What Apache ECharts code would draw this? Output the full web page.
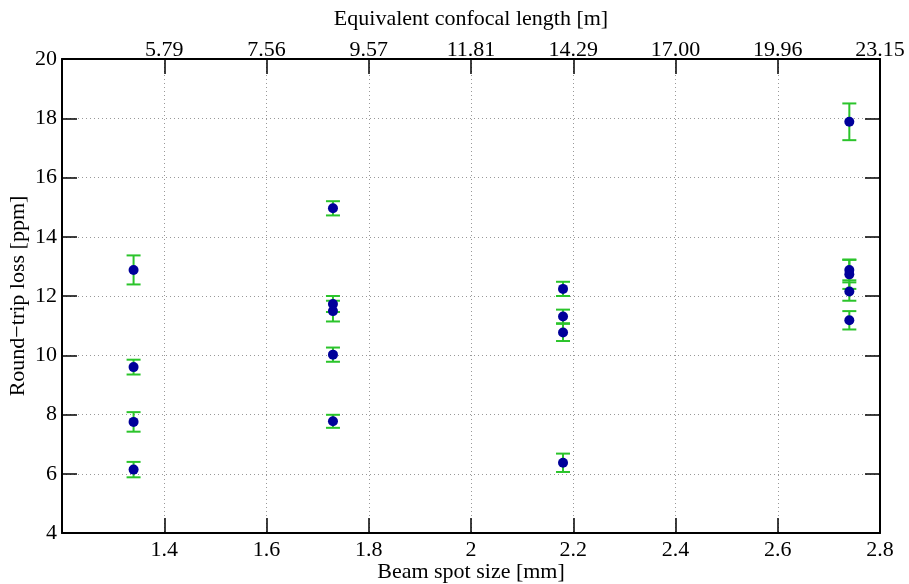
<!DOCTYPE html>
<html>
<head>
<meta charset="utf-8">
<script src="https://cdn.jsdelivr.net/npm/echarts@6/dist/echarts.min.js"></script>
<style>
html,body{margin:0;padding:0;background:#fff;}
#chart{width:909px;height:584px;}
</style>
</head>
<body>
<div id="chart"></div>
<script>
// Beam spot size [mm] for each measurement
const spotSize = [1.34, 1.34, 1.34, 1.34,
                  1.73, 1.73, 1.73, 1.73, 1.73,
                  2.18, 2.18, 2.18, 2.18,
                  2.74, 2.74, 2.74, 2.74, 2.74];
// Round-trip loss [ppm]
const loss = [12.88, 9.60, 7.75, 6.14,
              14.96, 11.73, 11.49, 10.02, 7.77,
              12.24, 11.31, 10.77, 6.37,
              17.88, 12.88, 12.73, 12.15, 11.18];
// Error (half-height of error bar) [ppm]
const lossErr = [0.49, 0.25, 0.33, 0.26,
                 0.24, 0.27, 0.35, 0.24, 0.22,
                 0.24, 0.23, 0.29, 0.31,
                 0.62, 0.35, 0.49, 0.31, 0.31];
// Top axis tick labels (equivalent confocal length [m]) at bottom ticks 1.4 ... 2.8
const bottomTicks = [1.4, 1.6, 1.8, 2.0, 2.2, 2.4, 2.6, 2.8];
const topTickLabels = ['5.79', '7.56', '9.57', '11.81', '14.29', '17.00', '19.96', '23.15'];

const errColor = '#2bc42b';
const dotColor = '#00009a';
const font = 'Liberation Serif';
const fs = 22;

const pts = spotSize.map((x, i) => [x, loss[i], lossErr[i]]);

function renderErr(params, api) {
  const x = api.value(0), y = api.value(1), e = api.value(2);
  const top = api.coord([x, y + e]);
  const bot = api.coord([x, y - e]);
  const hw = 7;
  const style = { stroke: errColor, lineWidth: 2 };
  return {
    type: 'group',
    children: [
      { type: 'line', shape: { x1: top[0], y1: top[1], x2: bot[0], y2: bot[1] }, style: style },
      { type: 'line', shape: { x1: top[0] - hw, y1: top[1], x2: top[0] + hw, y2: top[1] }, style: style },
      { type: 'line', shape: { x1: bot[0] - hw, y1: bot[1], x2: bot[0] + hw, y2: bot[1] }, style: style }
    ]
  };
}

const axisLine = { show: true, onZero: false, lineStyle: { color: '#000', width: 2 } };
const axisTick = { show: true, inside: true, length: 15, lineStyle: { color: '#000', width: 1.5 } };
const splitLine = { show: true, lineStyle: { color: '#999', type: [1, 3], width: 1 } };

function bottomFmt(v) {
  if (v < 1.3) return '';
  return Math.abs(v - 2) < 1e-6 ? '2' : v.toFixed(1);
}
function topFmt(v) {
  const i = bottomTicks.findIndex(t => Math.abs(t - v) < 1e-6);
  return i >= 0 ? topTickLabels[i] : '';
}

const chart = echarts.init(document.getElementById('chart'), null, { renderer: 'canvas' });
chart.setOption({
  animation: false,
  backgroundColor: '#fff',
  textStyle: { fontFamily: font },
  grid: { left: 62, right: 29, top: 59, bottom: 51, containLabel: false, outerBoundsMode: 'none' },
  xAxis: [
    {
      type: 'value', min: 1.2, max: 2.8, interval: 0.2, position: 'bottom',
      name: 'Beam spot size [mm]', nameLocation: 'middle', nameGap: 28, nameMoveOverlap: false,
      nameTextStyle: { fontFamily: font, fontSize: fs, color: '#000' },
      axisLine: axisLine, axisTick: axisTick, splitLine: splitLine,
      axisLabel: { formatter: bottomFmt, fontFamily: font, fontSize: fs, color: '#000', margin: 6, showMinLabel: false }
    },
    {
      type: 'value', min: 1.2, max: 2.8, interval: 0.2, position: 'top',
      name: 'Equivalent confocal length [m]', nameLocation: 'middle', nameGap: 29, nameMoveOverlap: false,
      nameTextStyle: { fontFamily: font, fontSize: fs, color: '#000' },
      axisLine: axisLine, axisTick: axisTick, splitLine: { show: false },
      axisLabel: { formatter: topFmt, fontFamily: font, fontSize: fs, color: '#000', margin: -2, showMinLabel: false }
    }
  ],
  yAxis: [
    {
      type: 'value', min: 4, max: 20, interval: 2, position: 'left',
      name: 'Round\u2212trip loss [ppm]', nameLocation: 'middle', nameGap: 33, nameMoveOverlap: false,
      nameTextStyle: { fontFamily: font, fontSize: fs, color: '#000' },
      axisLine: axisLine, axisTick: axisTick, splitLine: splitLine,
      axisLabel: { fontFamily: font, fontSize: fs, color: '#000', margin: 5 }
    },
    {
      type: 'value', min: 4, max: 20, interval: 2, position: 'right',
      axisLine: axisLine, axisTick: axisTick, splitLine: { show: false },
      axisLabel: { show: false }
    }
  ],
  series: [
    {
      type: 'custom', xAxisIndex: 0, yAxisIndex: 0,
      renderItem: renderErr, data: pts, encode: { x: 0, y: [1, 2] }, z: 2
    },
    {
      type: 'scatter', xAxisIndex: 0, yAxisIndex: 0,
      data: pts.map(p => [p[0], p[1]]), symbol: 'circle', symbolSize: 10,
      itemStyle: { color: dotColor, opacity: 1 }, z: 3
    }
  ]
});
</script>
</body>
</html>
